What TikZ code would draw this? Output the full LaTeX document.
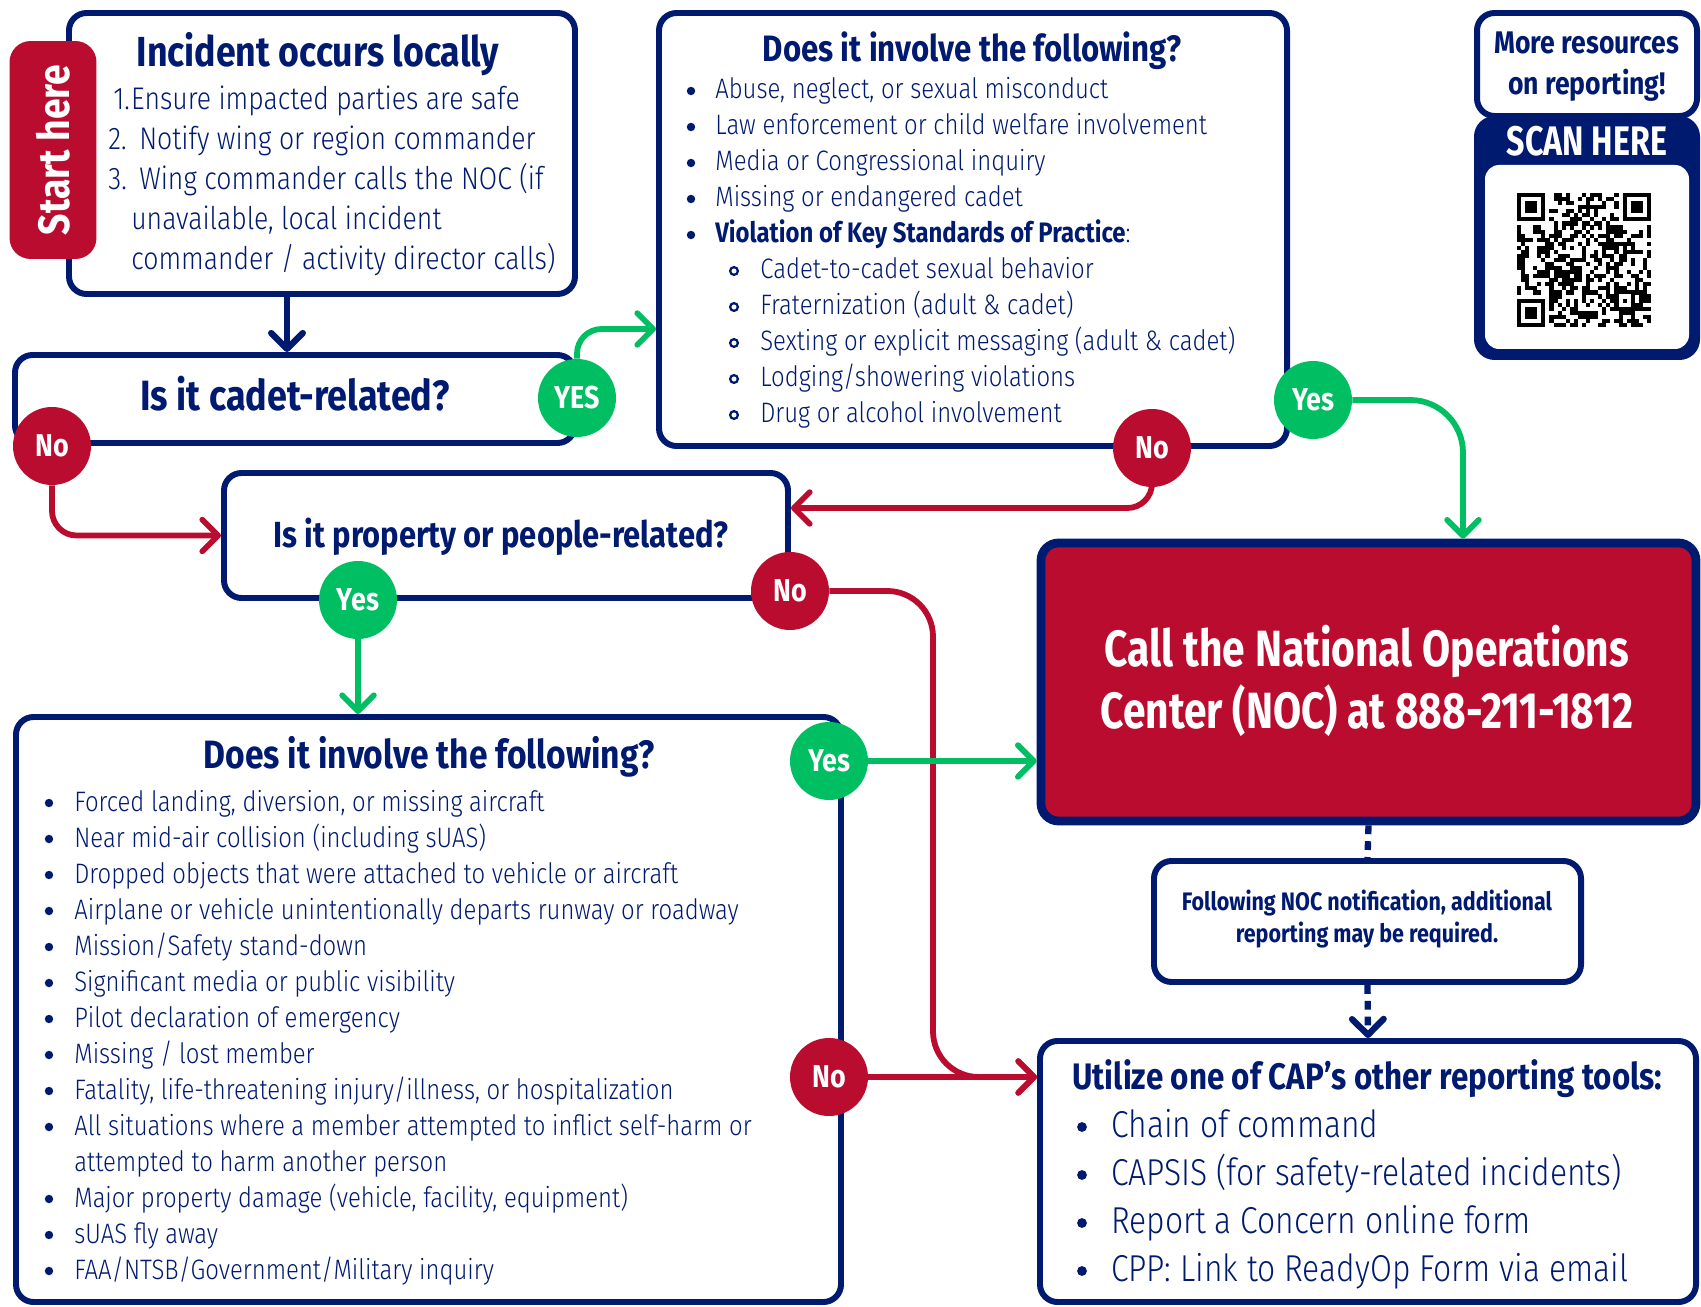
\documentclass[tikz,border=0pt]{standalone}
\usepackage{fontspec}
\setmainfont{Fira Sans}[UprightFont=* Light, BoldFont=* Bold, FakeStretch=0.85]
\newfontfamily\condbf{Fira Sans Bold}[FakeStretch=0.78]
\newfontfamily\nocbf{Fira Sans Bold}[FakeStretch=0.8]
\usetikzlibrary{arrows.meta, positioning, calc, fit}

\definecolor{capnavy}{RGB}{0,26,112}
\definecolor{capred}{RGB}{186,12,47}
\definecolor{capgreen}{RGB}{0,190,98}

\newcommand{\fsz}[2]{\fontsize{#1}{#2}\selectfont}

\tikzset{
  box/.style={draw=capnavy, line width=3.4pt, rounded corners=10pt, fill=white, inner sep=0pt},
  ansdot/.style={circle, minimum size=1.56cm, inner sep=0pt, text=white, font=\bfseries\fsz{18}{18}},
  yesdot/.style={ansdot, fill=capgreen},
  nodot/.style={ansdot, fill=capred},
  txt/.style={inner sep=0pt, text=capnavy},
  ttl/.style={txt, font=\bfseries\fsz{21}{24}},
  tip/.style={-{Straight Barb[length=9pt, width=18pt, round]}},
  gline/.style={tip, capgreen, line width=3.3pt, rounded corners=14pt},
  rline/.style={tip, capred, line width=3.3pt, rounded corners=14pt},
  nline/.style={tip, capnavy, line width=3.6pt},
  dotline/.style={capnavy, line width=3.6pt, dash pattern=on 5pt off 4pt},
}

\begin{document}
\begin{tikzpicture}[x=0.02cm, y=-0.02cm]
\useasboundingbox (0,0) rectangle (1701,1307);

% boxes
\node[box, fit={(69,13) (575,294)}] (incident) {};
\node[box, fit={(15,355) (575,443)}] (cadet) {};
\node[box, fit={(659,13) (1287,446)}] (invq) {};
\node[box, fit={(224,473) (788,598)}] (prop) {};
\node[box, fit={(16,717) (841,1302)}] (bot) {};
\node[box, fit={(1041,543) (1696,821)}, fill=capred, line width=5pt] (noc) {};
\node[box, fit={(1154,861) (1581,982)}] (foll) {};
\node[box, fit={(1040,1041) (1696,1302)}] (util) {};

\node[txt, anchor=base, font=\bfseries\fsz{24.1}{26}] (cadetq) at (295,411) {Is it cadet-related?};
\node[txt, anchor=base, font=\bfseries\fsz{20.7}{24}] (propq) at (501,547) {Is it property or people-related?};
\node[txt, anchor=base, text=white, font=\nocbf\fsz{29}{32}] (noc-1) at (1367,666) {Call the National Operations};
\node[txt, anchor=base, text=white, font=\nocbf\fsz{29}{32}] (noc-2) at (1367,728) {Center (NOC) at 888-211-1812};
\node[txt, anchor=base, font=\bfseries\fsz{14.4}{16}] (foll-1) at (1367,910) {Following NOC notification, additional};
\node[txt, anchor=base, font=\bfseries\fsz{14.4}{16}] (foll-2) at (1367,942) {reporting may be required.};

% resources and qr code
\node[box, fit={(1477,13) (1697,116)}] (more) {};
\node[txt, anchor=base, font=\bfseries\fsz{17.8}{20}] (more-1) at (1587,54) {More resources};
\node[txt, anchor=base, font=\bfseries\fsz{17.8}{20}] (more-2) at (1587,95) {on reporting!};
\node[box, fill=capnavy, fit={(1477,119) (1697,357)}] (scan) {};
\fill[white, rounded corners=8pt] (1485,165) rectangle (1689,349);
\node[txt, text=white, font=\condbf\fsz{23.5}{24}] (scanlbl) at (1587,141) {SCAN HERE};
\pgfmathsetseed{4217}
\foreach \i in {0,...,32}
  \foreach \j in {0,...,32} {
    \pgfmathtruncatemacro\skipit{(\i<8 && \j<8) || (\i>24 && \j<8) || (\i<8 && \j>24) || (\i>23 && \i<29 && \j>23 && \j<29)}
    \pgfmathtruncatemacro\on{rnd+0.47}
    \ifnum\skipit=0 \ifnum\on=1
      \fill[black] (1517+4.06*\i,193+4.06*\j) rectangle ++(4.1,4.1);
    \fi\fi
  }
\foreach \qx/\qy in {1517/193, 1622.6/193, 1517/298.6} {
  \fill[black] (\qx,\qy) rectangle ++(28.4,28.4);
  \fill[white] (\qx+4.06,\qy+4.06) rectangle ++(20.3,20.3);
  \fill[black] (\qx+8.12,\qy+8.12) rectangle ++(12.2,12.2);
}
\fill[black] (1614.4,290.4) rectangle ++(20.3,20.3);
\fill[white] (1618.5,294.5) rectangle ++(12.2,12.2);
\fill[black] (1622.6,298.6) rectangle ++(4.06,4.06);

% start tab
\node[fill=capred, rounded corners=12pt, rotate=90, minimum width=4.36cm, minimum height=1.74cm,
  text=white, font=\bfseries\fsz{25}{25}] (start) at (53,150) {Start here};

% incident text
\node[txt, font=\bfseries\fsz{23.9}{26}, anchor=base] (inctitle) at (318,67) {Incident occurs locally};
\node[txt, anchor=base west, font=\fsz{17.8}{22}] (inc-1) at (108,110) {\hspace{2.8pt}\makebox[10.2pt][l]{1.}Ensure impacted parties are safe};
\node[txt, anchor=base west, font=\fsz{17.8}{22}] (inc-2) at (108,150) {\makebox[17.6pt][l]{2.}Notify wing or region commander};
\node[txt, anchor=base west, font=\fsz{17.8}{22}] (inc-3) at (108,190) {\makebox[17.6pt][l]{3.}Wing commander calls the NOC (if};
\node[txt, anchor=base west, font=\fsz{17.8}{22}] (inc-4) at (131,230) {unavailable, local incident};
\node[txt, anchor=base west, font=\fsz{17.8}{22}] (inc-5) at (131,270) {commander / activity director calls)};

% cadet checklist
\node[ttl, font=\bfseries\fsz{20.9}{24}, anchor=base] (invtitle) at (972,62) {Does it involve the following?};
\foreach \txt [count=\i] in {{Abuse, neglect, or sexual misconduct},
    Law enforcement or child welfare involvement,
    Media or Congressional inquiry,
    Missing or endangered cadet,
    {{\bfseries Violation of Key Standards of Practice}:}} {
  \fill[capnavy] (691,99+36*\i-36-8) circle (2.4pt);
  \node[txt, anchor=base west, font=\fsz{16}{20}] (inv-\i) at (715,99+36*\i-36) {\txt};
}
\foreach \txt [count=\i] in {Cadet-to-cadet sexual behavior,
    Fraternization (adult \& cadet),
    Sexting or explicit messaging (adult \& cadet),
    Lodging/showering violations,
    Drug or alcohol involvement} {
  \draw[capnavy, line width=1.3pt] (734,279+36*\i-36-8) circle (2.2pt);
  \node[txt, anchor=base west, font=\fsz{16}{20}] (sub-\i) at (760,279+36*\i-36) {\txt};
}

% property checklist
\node[ttl, font=\bfseries\fsz{22.5}{24}, anchor=base] (bottitle) at (429,768) {Does it involve the following?};
\foreach \txt [count=\i] in {{Forced landing, diversion, or missing aircraft},
    Near mid-air collision (including sUAS),
    Dropped objects that were attached to vehicle or aircraft,
    Airplane or vehicle unintentionally departs runway or roadway,
    Mission/Safety stand-down,
    Significant media or public visibility,
    Pilot declaration of emergency,
    Missing / lost member,
    {Fatality, life-threatening injury/illness, or hospitalization},
    All situations where a member attempted to inflict self-harm or,
    attempted to harm another person,
    {Major property damage (vehicle, facility, equipment)},
    sUAS fly away,
    FAA/NTSB/Government/Military inquiry} {
  \node[txt, anchor=base west, font=\fsz{16}{20}] (bot-\i) at (74,811+36*\i-36) {\txt};
}
\foreach \i in {1,...,10,12,13,14}
  \fill[capnavy] (49,811+36*\i-36-8) circle (2.4pt);

% other tools
\node[ttl, anchor=base west] (utiltitle) at (1072,1089) {Utilize one of CAP’s other reporting tools:};
\foreach \txt [count=\i] in {Chain of command,
    CAPSIS (for safety-related incidents),
    Report a Concern online form,
    CPP: Link to ReadyOp Form via email} {
  \fill[capnavy] (1082,1137+48*\i-48-10) circle (2.8pt);
  \node[txt, anchor=base west, font=\fsz{21.3}{24}] (util-\i) at (1111,1137+48*\i-48) {\txt};
}

% answers
\node[yesdot] (yesA) at (577,398) {YES};
\node[nodot] (noA) at (52,446) {No};
\node[yesdot] (yesB) at (1313,400) {Yes};
\node[nodot] (noB) at (1152,448) {No};
\node[yesdot] (yesC) at (358,600) {Yes};
\node[nodot] (noC) at (790,591) {No};
\node[yesdot] (yesD) at (829,761) {Yes};
\node[nodot] (noD) at (829,1077) {No};

% connectors
\coordinate (colI) at (287,0);
\coordinate (rowA) at (0,329);
\coordinate (rowB) at (0,508);
\coordinate (colB) at (1463,0);
\coordinate (colC) at (933,0);
\draw[nline] (incident.south -| colI) -- (cadet.north -| colI);
\draw[gline] (yesA.north) |- (invq.west |- rowA);
\draw[rline] (noA.south) |- (prop.west);
\draw[rline] (noB.south) |- (prop.east |- rowB);
\draw[gline, rounded corners=30pt] (yesB.east) -| (noc.north -| colB);
\draw[gline] (yesC.south) -- (bot.north -| yesC);
\draw[rline, rounded corners=26pt] (noC.east) -| (colC |- noD) -- (util.west |- noD);
\draw[gline] (yesD.east) -- (noc.west |- yesD);
\draw[rline] (noD.east) -- (util.west |- noD);
\draw[dotline] (noc.south) -- (foll.north);
\draw[dotline, tip] (foll.south) -- (util.north);
\end{tikzpicture}
\end{document}
